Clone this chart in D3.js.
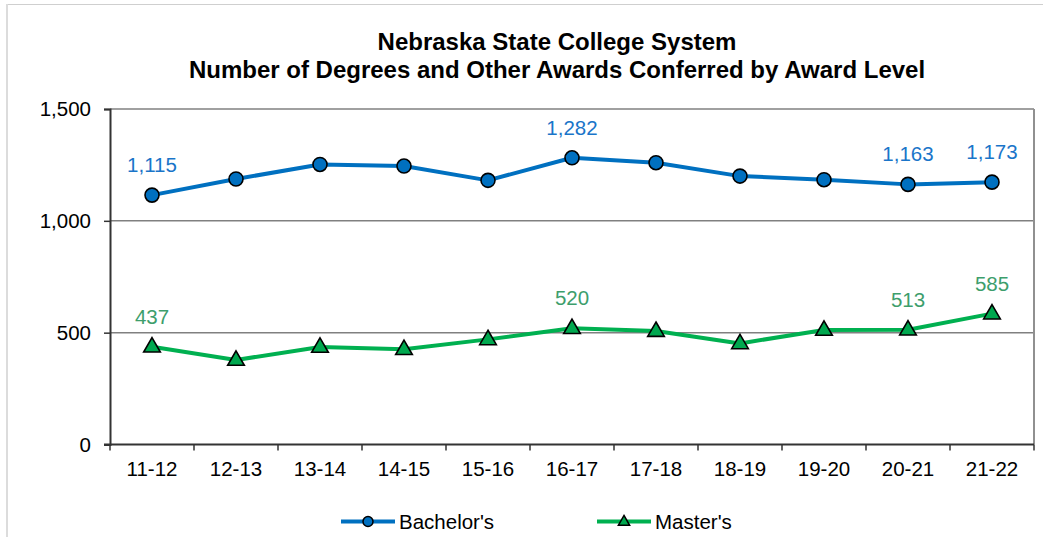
<!DOCTYPE html>
<html>
<head>
<meta charset="utf-8">
<script src="https://cdn.jsdelivr.net/npm/d3@7"></script>
<style>
  body { margin: 0; background: #fff; }
  svg { display: block; font-family: "Liberation Sans", Arial, sans-serif; }
</style>
</head>
<body>
<svg id="chart" width="1049" height="537"></svg>
<script>
// data
var years = ["11-12", "12-13", "13-14", "14-15", "15-16", "16-17", "17-18", "18-19", "19-20", "20-21", "21-22"];
var bachelors = [1115, 1187, 1252, 1245, 1181, 1282, 1260, 1200, 1184, 1163, 1173];
var masters = [437, 378, 436, 426, 470, 520, 507, 452, 512, 513, 585];
var yTicks = [0, 500, 1000, 1500];
// which points carry a value label
var bachelorLabels = ["11-12", "16-17", "20-21", "21-22"];
var masterLabels = ["11-12", "16-17", "20-21", "21-22"];

var svg = d3.select("#chart");
var plot = {left: 110, right: 1034, top: 109, bottom: 444.5};

var xScale = d3.scaleBand()
    .domain(years)
    .range([plot.left, plot.right]);

var yScale = d3.scaleLinear()
    .domain([0, 1500])
    .range([plot.bottom, plot.top]);

var cx = function(d, i) { return xScale(years[i]) + xScale.bandwidth() / 2; };

// outer frame
svg.append("line").attr("x1", 7).attr("x2", 1043).attr("y1", 4.5).attr("y2", 4.5)
    .attr("stroke", "#cfcfcf").attr("stroke-width", 1);
svg.append("line").attr("x1", 7).attr("x2", 7).attr("y1", 4).attr("y2", 537)
    .attr("stroke", "#dcdcdc").attr("stroke-width", 2);

// title
var title = svg.append("text")
    .attr("text-anchor", "middle")
    .attr("font-weight", "bold")
    .attr("font-size", 24)
    .attr("fill", "#000");
title.append("tspan").attr("x", 557).attr("y", 50).text("Nebraska State College System");
title.append("tspan").attr("x", 557).attr("y", 78).text("Number of Degrees and Other Awards Conferred by Award Level");

// gridlines
svg.append("g")
    .selectAll("line")
    .data(yTicks.filter(function(t) { return t > 0; }))
    .enter()
    .append("line")
    .attr("x1", plot.left)
    .attr("x2", plot.right)
    .attr("y1", function(t) { return yScale(t); })
    .attr("y2", function(t) { return yScale(t); })
    .attr("stroke", "#808080")
    .attr("stroke-width", 1.5);

// right border
svg.append("line")
    .attr("x1", plot.right).attr("x2", plot.right)
    .attr("y1", plot.top).attr("y2", plot.bottom)
    .attr("stroke", "#909090").attr("stroke-width", 2);

// y axis
var yAxis = d3.axisLeft(yScale)
    .tickValues(yTicks)
    .tickSize(6)
    .tickPadding(13)
    .tickFormat(d3.format(","));

var gy = svg.append("g")
    .attr("transform", "translate(" + plot.left + ",0)")
    .call(yAxis);
gy.select(".domain").attr("stroke", "#333").attr("stroke-width", 2);
gy.selectAll(".tick line").attr("stroke", "#333").attr("stroke-width", 1.5);
gy.selectAll(".tick text").attr("font-size", 20.5).attr("fill", "#000")
    .attr("font-family", "Liberation Sans, Arial, sans-serif");

// x axis (ticks on category boundaries)
var gx = svg.append("g")
    .attr("transform", "translate(0," + plot.bottom + ")");
gx.append("line")
    .attr("x1", plot.left - 6).attr("x2", plot.right)
    .attr("stroke", "#333").attr("stroke-width", 2);
gx.selectAll(".xt")
    .data(years.concat(["end"]))
    .enter()
    .append("line")
    .attr("class", "xt")
    .attr("x1", function(d, i) { return plot.left + i * xScale.bandwidth(); })
    .attr("x2", function(d, i) { return plot.left + i * xScale.bandwidth(); })
    .attr("y1", 0).attr("y2", 6)
    .attr("stroke", "#333").attr("stroke-width", 1.5);
gx.selectAll(".xl")
    .data(years)
    .enter()
    .append("text")
    .attr("class", "xl")
    .attr("x", function(d) { return xScale(d) + xScale.bandwidth() / 2; })
    .attr("y", 31)
    .attr("text-anchor", "middle")
    .attr("font-size", 20.5)
    .attr("fill", "#000")
    .text(function(d) { return d; });

var line = d3.line()
    .x(cx)
    .y(function(d) { return yScale(d); });

var tri = d3.symbol().type(d3.symbolTriangle);

var drawSeries = function(values, color, labelColor, labels, marker)
{
    var g = svg.append("g");
    g.append("path")
        .datum(values)
        .attr("d", line)
        .attr("fill", "none")
        .attr("stroke", color)
        .attr("stroke-width", 4)
        .attr("stroke-linejoin", "round");

    if (marker == "circle")
    {
        g.selectAll("circle")
            .data(values)
            .enter()
            .append("circle")
            .attr("cx", cx)
            .attr("cy", function(d) { return yScale(d); })
            .attr("r", 7)
            .attr("fill", color)
            .attr("stroke", "#000")
            .attr("stroke-width", 1.6);
    }
    else
    {
        g.selectAll(".mk")
            .data(values)
            .enter()
            .append("path")
            .attr("class", "mk")
            .attr("d", tri.size(120))
            .attr("transform", function(d, i) { return "translate(" + cx(d, i) + "," + (yScale(d) + 0.5) + ")"; })
            .attr("fill", "#00a84f")
            .attr("stroke", "#000")
            .attr("stroke-width", 1.6);
    }

    g.selectAll(".lbl")
        .data(values)
        .enter()
        .filter(function(d, i) { return labels.indexOf(years[i]) >= 0; })
        .append("text")
        .attr("class", "lbl")
        .attr("x", function(d) { return cx(d, values.indexOf(d)); })
        .attr("y", function(d) { return yScale(d) - 23; })
        .attr("text-anchor", "middle")
        .attr("font-size", 20.5)
        .attr("fill", labelColor)
        .text(function(d) { return d3.format(",")(d); });
};

drawSeries(bachelors, "#0070c0", "#1a75c9", bachelorLabels, "circle");
drawSeries(masters, "#00b050", "#3d9e6c", masterLabels, "triangle");

// legend
var legendItems = [
    {name: "Bachelor's", color: "#0070c0", marker: "circle", x: 341},
    {name: "Master's", color: "#00b050", marker: "triangle", x: 597}
];
var ly = 521.5;
var legend = svg.append("g");
legendItems.forEach(function(item)
{
    legend.append("line")
        .attr("x1", item.x).attr("x2", item.x + 54)
        .attr("y1", ly).attr("y2", ly)
        .attr("stroke", item.color).attr("stroke-width", 4);
    if (item.marker == "circle")
    {
        legend.append("circle")
            .attr("cx", item.x + 27).attr("cy", ly).attr("r", 5)
            .attr("fill", item.color).attr("stroke", "#000").attr("stroke-width", 1.5);
    }
    else
    {
        legend.append("path")
            .attr("d", tri.size(55))
            .attr("transform", "translate(" + (item.x + 27) + "," + (ly + 0.5) + ")")
            .attr("fill", "#00a84f").attr("stroke", "#000").attr("stroke-width", 1.5);
    }
    legend.append("text")
        .attr("x", item.x + 58)
        .attr("y", ly + 7.5)
        .attr("font-size", 20.5)
        .attr("fill", "#000")
        .text(item.name);
});
</script>
</body>
</html>
